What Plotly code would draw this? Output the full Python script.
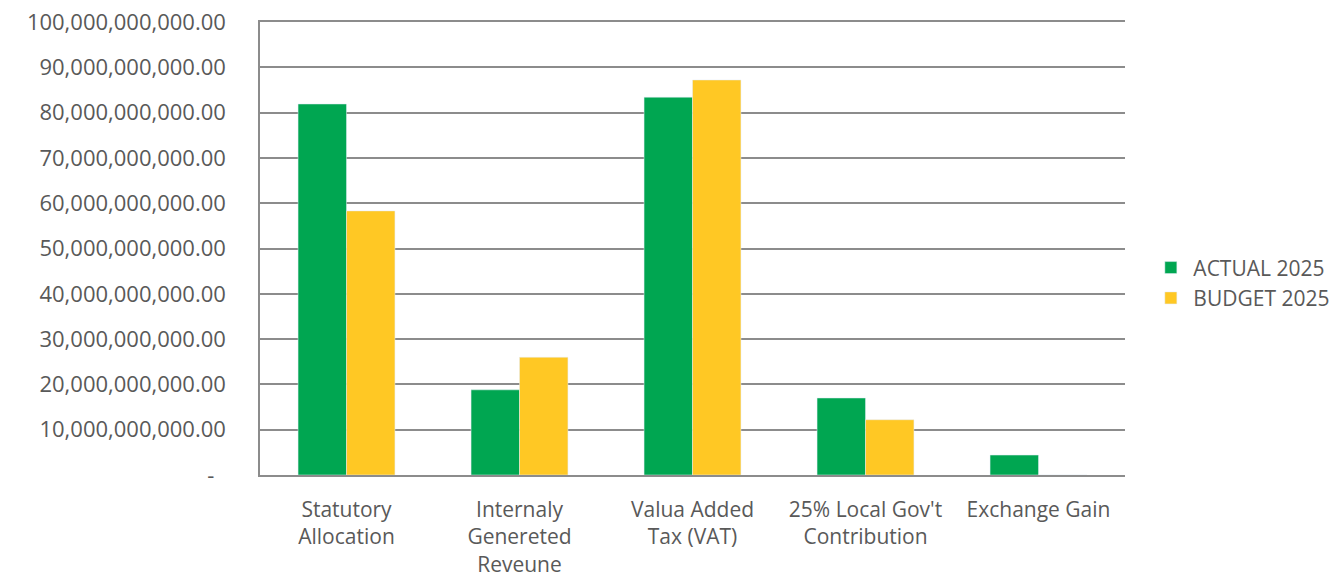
import plotly.graph_objects as go

categories = ["Statutory<br>Allocation", "Internaly<br>Genereted<br>Reveune", "Valua Added<br>Tax (VAT)",
              "25% Local Gov't<br>Contribution", "Exchange Gain"]
actual_2025 = [81.9e9, 18.8e9, 83.4e9, 17.0e9, 4.4e9]
budget_2025 = [58.3e9, 26.0e9, 87.2e9, 12.2e9, 0]
y_tickvals = [0, 10e9, 20e9, 30e9, 40e9, 50e9, 60e9, 70e9, 80e9, 90e9, 100e9]
y_ticktext = ["-\u00a0\u00a0"] + [f"{v:,.2f}" for v in y_tickvals[1:]]

FONT = "Open Sans"
fig = go.Figure()
fig.add_trace(go.Bar(name="ACTUAL 2025", x=categories, y=actual_2025, marker_color="#00A651"))
fig.add_trace(go.Bar(name="BUDGET 2025", x=categories, y=budget_2025, marker_color="#FFC824"))

fig.update_layout(
    width=1344, height=583,
    margin=dict(l=260, r=219, t=22, b=108, autoexpand=False),
    paper_bgcolor="white", plot_bgcolor="white",
    barmode="group", bargap=0.44, bargroupgap=0,
    font=dict(family=FONT, size=21, color="#595959"),
    legend=dict(x=1.027, y=0.424, xanchor="left", yanchor="middle", itemwidth=35,
                font=dict(family=FONT, size=21, color="#595959")),
    showlegend=True,
)
fig.update_yaxes(range=[0, 100e9], tickvals=y_tickvals, ticktext=y_ticktext,
                 showgrid=True, gridcolor="#8c8c8c", gridwidth=1.5,
                 showline=True, linecolor="#8c8c8c", linewidth=1.5,
                 ticks="", ticklabelstandoff=28, zeroline=False, automargin=False,
                 ticklabeloverflow="allow",
                 tickfont=dict(family=FONT, size=22, color="#595959"))
fig.update_xaxes(showline=True, mirror=True, linecolor="#8c8c8c", linewidth=1.5, ticks="",
                 tickangle=0, automargin=False, ticklabeloverflow="allow",
                 ticklabelstandoff=15,
                 tickfont=dict(family=FONT, size=21, color="#595959"))

fig.write_html("out.html", config={"displayModeBar": False},
               post_script="document.body.style.margin='0';document.body.style.overflow='hidden';")
